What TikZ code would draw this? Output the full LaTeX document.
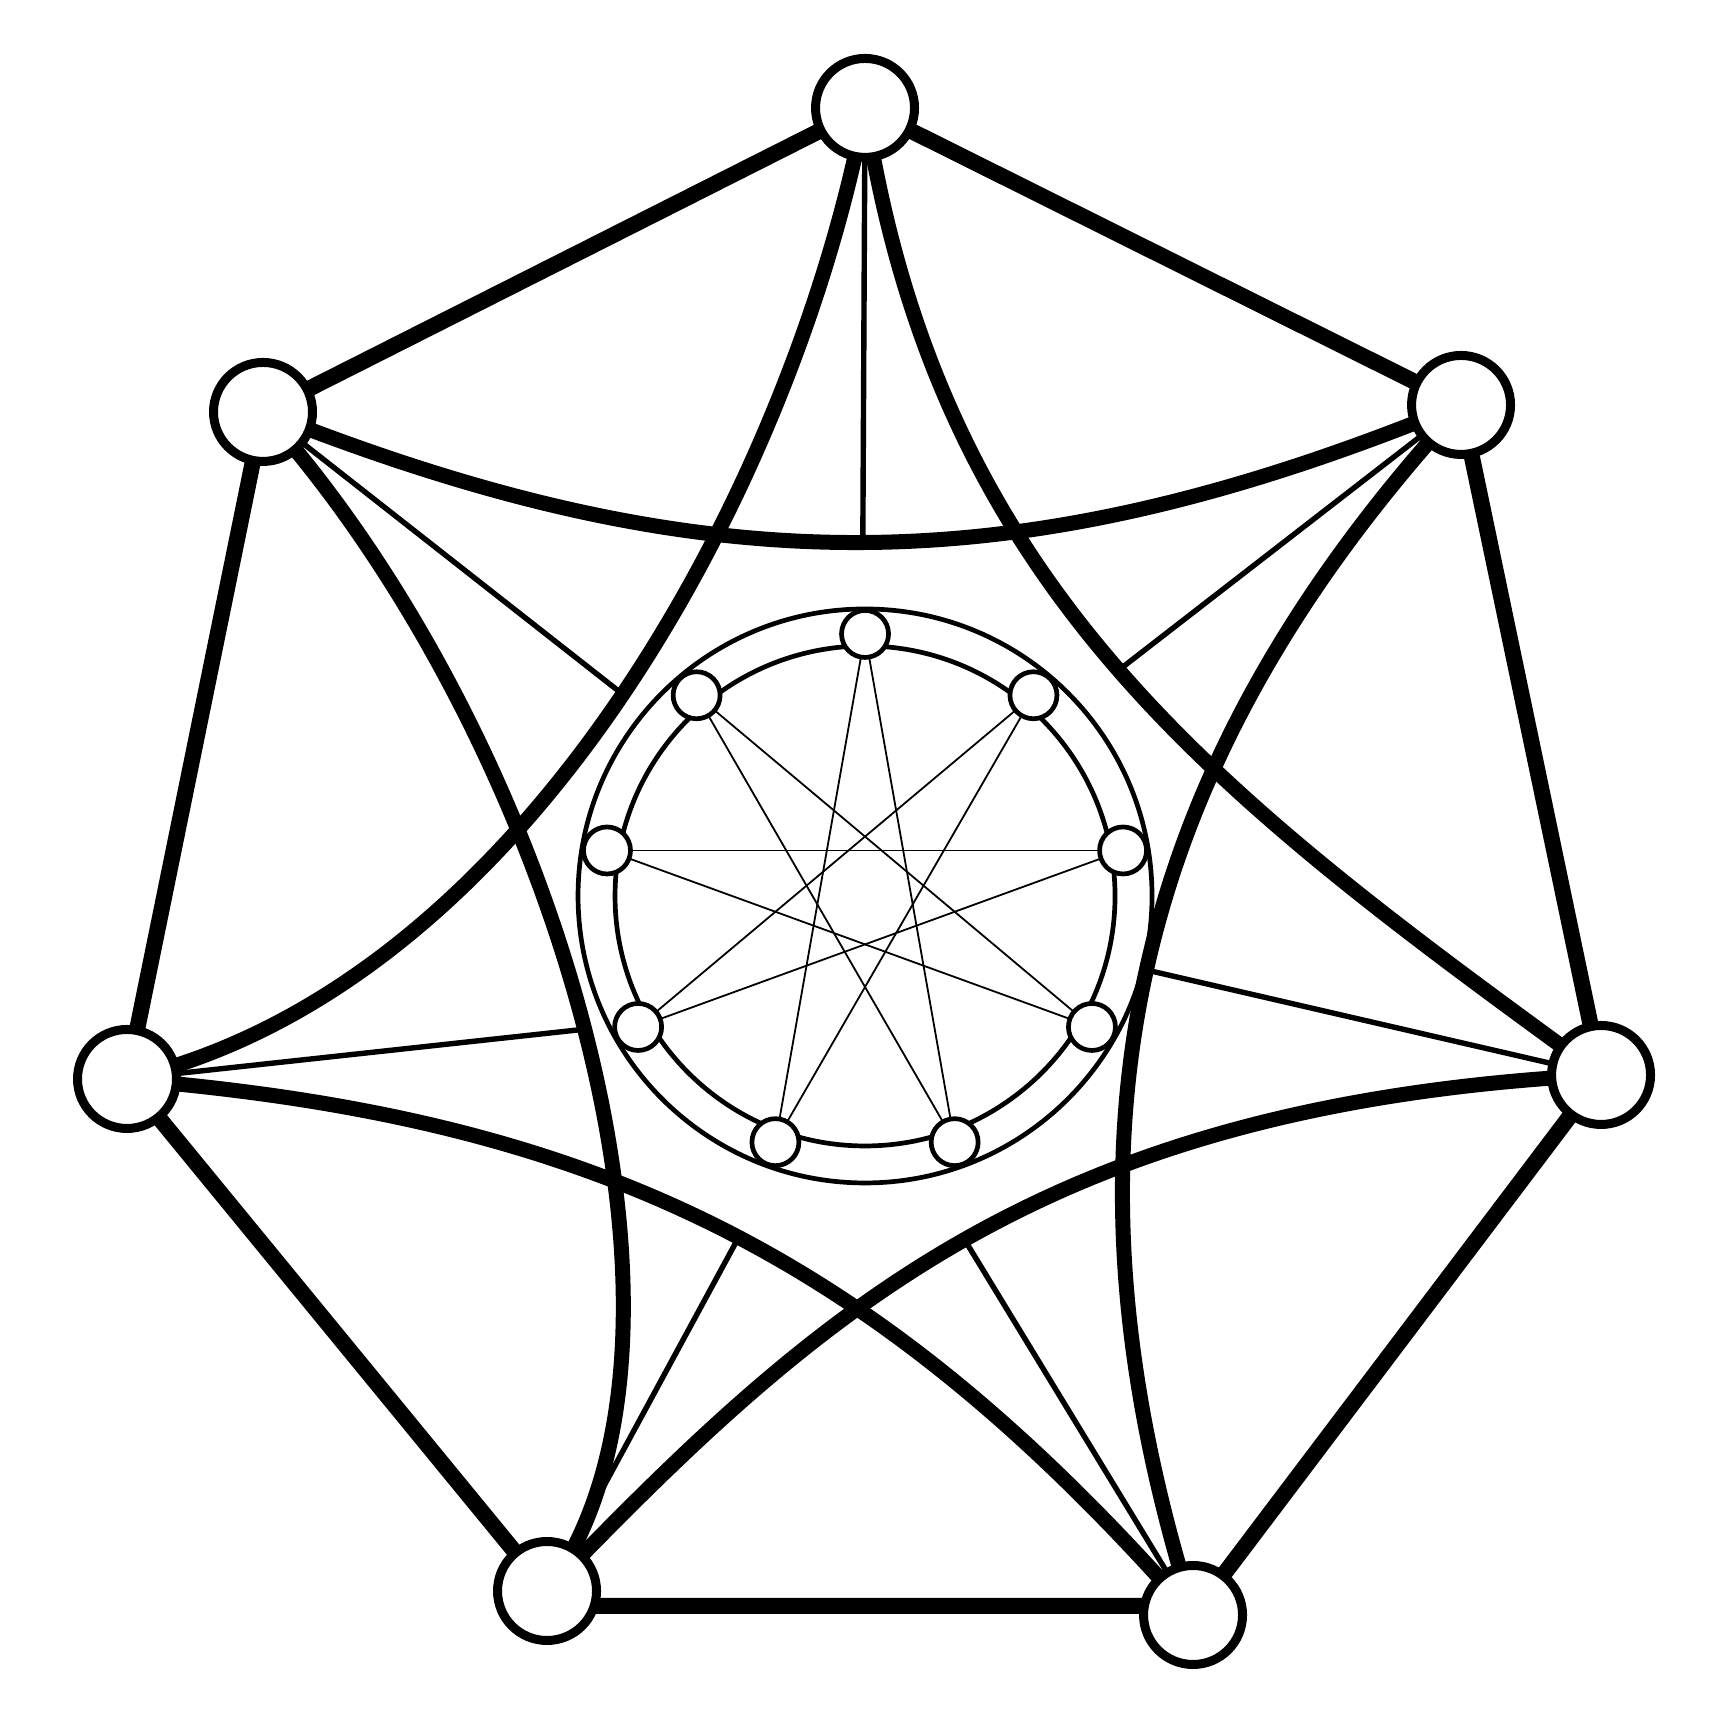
\documentclass[tikz,border=0pt]{standalone}
\pgfdeclarelayer{bg}
\pgfsetlayers{bg,main}
\begin{document}
\begin{tikzpicture}[x=0.05pt,y=0.05pt,
  bignode/.style={circle, draw, fill=white, line width=0.45pt, minimum size=4.95pt, inner sep=0pt, outer sep=0pt},
  smallnode/.style={circle, draw, fill=white, line width=0.235pt, minimum size=2.35pt, inner sep=0pt, outer sep=0pt},
  outeredge/.style={line width=0.8pt},
  curveedge/.style={line width=0.75pt},
  spoke/.style={line width=0.27pt},
  ring/.style={line width=0.235pt},
  starline/.style={line width=0.09pt}]
\useasboundingbox (0,0) rectangle (1728,1728);
% outer nodes
\node[bignode] (T)  at (865,1620) {};
\node[bignode] (UR) at (1461,1323) {};
\node[bignode] (R)  at (1601,653) {};
\node[bignode] (BR) at (1193,113) {};
\node[bignode] (BL) at (547,137) {};
\node[bignode] (L)  at (127,649) {};
\node[bignode] (UL) at (263,1316) {};
% inner nodes
\coordinate (C) at (865,832);
\foreach \i in {0,...,8} {
  \path (C) ++({90-40*\i}:262) node[smallnode] (s\i) {};
}
\begin{pgfonlayer}{bg}
  % outer ring
  \draw[outeredge] (T) -- (UR);
  \draw[outeredge] (UR) -- (R);
  \draw[outeredge] (R) -- (BR);
  \draw[outeredge] ([yshift=-0.75pt]BL.center) -- ([yshift=0.45pt]BR.center);
  \draw[outeredge] (BL) -- (L);
  \draw[outeredge] (L) -- (UL);
  \draw[outeredge] (UL) -- (T);
  % curved edges
  \draw[curveedge] (UL) to[bend right=21] coordinate[pos=0.5] (m0) (UR);
  \draw[curveedge] (T.center) .. controls (939,1134) and (1222,929) .. coordinate[pos=0.5] (m1) (R.center);
  \draw[curveedge] (UR) to[bend right=28.5] coordinate[pos=0.5] (m2) (BR);
  \draw[curveedge] (R.center) .. controls (1040,624) and (816,415) .. coordinate[pos=0.5] (m3) (BL.center);
  \draw[curveedge] (L) to[bend left=21] coordinate[pos=0.52] (m4) (BR);
  \draw[curveedge] (UL.center) .. controls (556,990) and (733,389) .. coordinate[pos=0.5] (m5) (BL.center);
  \draw[curveedge] (T.center) .. controls (797,1257) and (533,743) .. coordinate[pos=0.5] (m6) (L.center);
  % spokes
  \draw[spoke] (T) -- (m0);
  \draw[spoke] (UR) -- (m1);
  \draw[spoke] (R) -- (m2);
  \draw[spoke] (BR) -- (m3);
  \draw[spoke] (BL) -- (m4);
  \draw[spoke] (L) -- (m5);
  \draw[spoke] (UL) -- (m6);
  % inner rings
  \draw[ring] (C) circle[radius=14.35pt];
  \draw[ring] (C) circle[radius=12.5pt];
  % star
  \foreach \i in {0,...,8} {
    \pgfmathtruncatemacro{\j}{mod(\i+4,9)}
    \draw[starline] (s\i) -- (s\j);
  }
\end{pgfonlayer}
\end{tikzpicture}
\end{document}
